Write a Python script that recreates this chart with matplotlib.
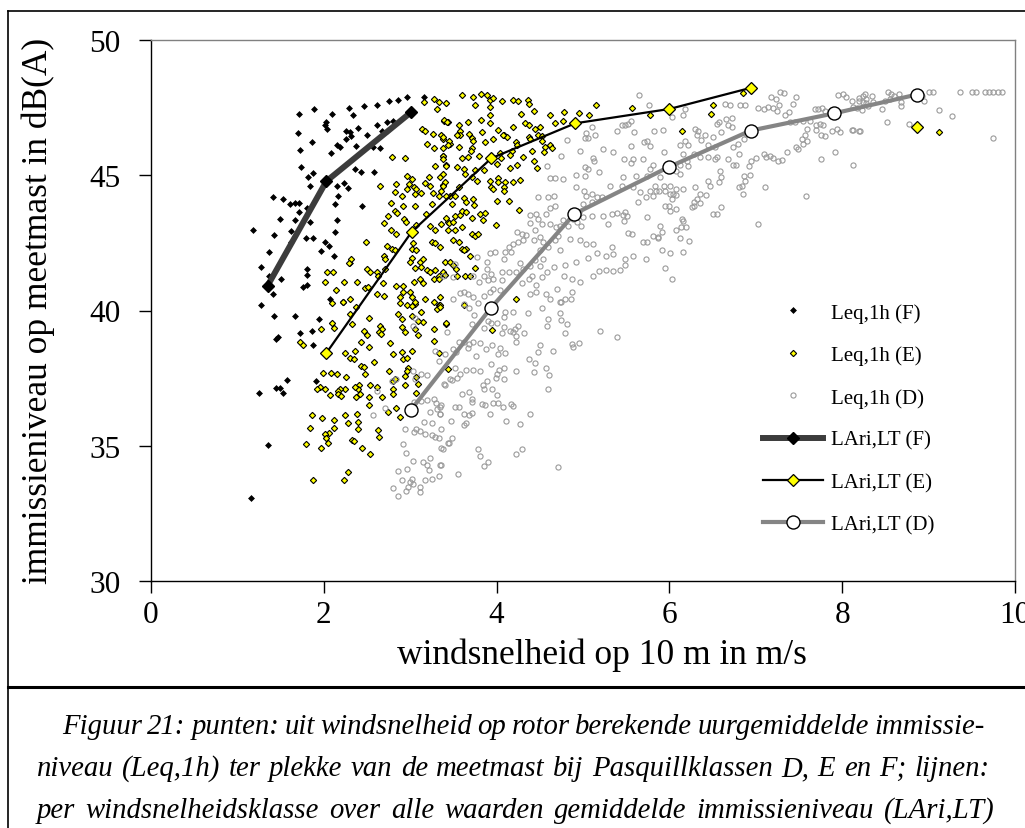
import matplotlib
matplotlib.use("Agg")
import matplotlib.pyplot as plt
from matplotlib.lines import Line2D
import numpy as np

plt.rcParams["font.family"] = ["Liberation Serif", "DejaVu Serif"]

# ---- hourly immission levels Leq,1h per Pasquill class (wind speed m/s, dB(A)) ----
leq_F = [
    (1.71, 47.27), (1.89, 47.45), (2.10, 47.27), (2.29, 47.49), (2.47, 47.55), (2.61, 47.61),
    (2.75, 47.75), (2.86, 47.80), (2.96, 47.91), (3.16, 47.91), (3.42, 47.66),
    (2.34, 47.21), (2.03, 46.96), (2.01, 46.84), (2.04, 46.71), (2.26, 46.65), (2.30, 46.59),
    (2.40, 46.75), (2.50, 46.47), (2.61, 46.86), (2.73, 46.96), (2.80, 47.02), (2.67, 46.65),
    (2.73, 46.63), (1.70, 46.57), (1.86, 46.22), (2.08, 45.81), (2.15, 46.10), (2.19, 46.04),
    (2.26, 46.34), (2.32, 46.44), (2.37, 46.07), (2.57, 46.04), (2.65, 46.01), (1.73, 45.94),
    (1.74, 45.32), (1.82, 44.93), (1.87, 45.09), (1.84, 44.62), (2.36, 45.24), (2.43, 45.11),
    (2.58, 45.11), (2.15, 44.62), (2.23, 44.72), (2.28, 44.53), (1.41, 44.19), (1.53, 44.13),
    (1.61, 43.94), (1.67, 43.98), (1.71, 43.98), (1.71, 43.63), (1.81, 43.80), (2.13, 43.94),
    (2.17, 44.25), (2.44, 43.86), (1.49, 43.38), (1.67, 43.33), (1.84, 43.29), (2.15, 43.33),
    (1.18, 42.99), (1.42, 42.80), (1.62, 42.95), (1.62, 42.55), (1.79, 42.69), (1.87, 42.69),
    (2.01, 42.53), (2.06, 42.40), (1.97, 42.19), (2.13, 42.92), (1.36, 42.16), (2.12, 42.00),
    (2.30, 41.76), (1.27, 41.60), (1.81, 41.52), (1.81, 41.32), (1.37, 41.27), (1.51, 41.17),
    (1.76, 40.86), (1.80, 40.95), (1.41, 40.62), (1.27, 40.21), (2.07, 40.43), (1.42, 39.81),
    (1.67, 39.81), (1.94, 39.67), (1.73, 39.17), (1.86, 39.26), (1.47, 39.01), (1.45, 38.93),
    (1.88, 38.73), (1.57, 37.44), (1.91, 37.41), (1.45, 37.14), (1.49, 37.14), (1.53, 36.94),
    (1.25, 36.94), (1.35, 35.01), (1.16, 33.08),
]

leq_E = [
    (3.16, 47.70), (3.27, 47.82), (3.33, 47.70), (3.31, 47.45), (3.42, 47.66), (3.39, 47.02),
    (3.44, 46.96), (3.14, 46.71), (3.17, 46.62), (3.26, 46.53), (3.36, 46.47), (3.38, 46.34),
    (3.20, 46.16), (3.27, 46.00), (3.38, 46.00), (3.46, 46.16), (2.79, 45.67), (2.94, 45.63),
    (3.38, 45.73), (3.29, 45.36), (3.42, 45.38), (2.96, 44.96), (3.02, 44.87), (2.99, 44.68),
    (2.96, 44.50), (3.04, 44.56), (3.07, 44.50), (2.84, 44.68), (2.65, 44.62), (3.22, 44.93),
    (3.23, 44.62), (3.17, 44.72), (3.34, 44.93), (3.38, 44.64), (3.36, 44.43), (2.82, 44.37),
    (2.91, 44.25), (3.05, 44.31), (3.13, 44.34), (3.26, 44.34), (3.33, 44.22), (3.46, 44.25),
    (2.78, 43.98), (2.92, 43.88), (3.06, 43.88), (3.18, 43.57), (3.25, 43.94), (2.82, 43.69),
    (2.85, 43.61), (2.93, 43.39), (2.95, 43.26), (2.70, 43.24), (2.74, 43.49), (2.78, 42.99),
    (2.84, 42.83), (3.07, 43.17), (3.23, 43.14), (3.29, 42.98), (3.36, 43.20), (3.44, 43.27),
    (3.25, 42.53), (3.29, 42.49), (3.34, 42.34), (2.49, 42.55), (2.73, 42.40), (2.79, 42.28),
    (2.82, 42.22), (3.02, 42.28), (3.03, 42.49), (3.07, 42.22), (2.70, 42.03), (2.71, 41.91),
    (3.02, 41.95), (3.11, 41.79), (3.15, 41.91), (2.50, 41.52), (2.53, 41.42), (2.61, 41.42),
    (2.63, 41.29), (2.71, 41.54), (3.00, 41.79), (3.06, 41.57), (3.13, 41.60), (3.19, 41.50),
    (3.23, 41.42), (3.29, 41.48), (3.33, 41.29), (3.38, 41.42), (2.32, 41.91), (2.29, 41.76),
    (2.04, 41.42), (2.11, 41.42), (2.01, 41.07), (2.23, 41.07), (2.39, 41.07), (2.69, 41.02),
    (2.84, 40.92), (2.92, 40.89), (3.04, 41.05), (3.11, 41.17), (3.15, 41.01), (3.27, 41.17),
    (3.33, 41.17), (2.48, 40.82), (2.51, 40.86), (2.61, 40.61), (2.70, 40.55), (2.14, 40.74),
    (2.22, 40.33), (2.30, 40.41), (2.37, 40.12), (2.88, 40.49), (2.92, 40.68), (3.00, 40.68),
    (3.02, 40.49), (3.06, 40.25), (3.17, 40.43), (3.27, 40.31), (3.33, 40.19), (3.34, 40.49),
    (2.10, 40.28), (2.22, 40.31), (2.30, 39.88), (2.52, 39.72), (2.10, 39.54), (2.12, 39.35),
    (1.97, 39.32), (2.33, 39.51), (2.46, 39.26), (2.50, 39.08), (2.43, 38.83), (2.52, 38.64),
    (2.65, 39.44), (2.67, 39.32), (2.64, 39.20), (2.66, 39.14), (2.77, 38.79), (2.88, 40.28),
    (2.96, 40.21), (3.02, 40.18), (3.06, 40.31), (2.86, 39.88), (2.90, 39.69), (3.02, 39.81),
    (3.13, 39.96), (3.15, 39.57), (3.09, 39.63), (2.91, 39.38), (2.94, 39.20), (3.06, 39.30),
    (3.09, 39.08), (3.28, 39.32), (3.41, 39.51), (3.31, 40.06), (3.34, 40.21), (3.28, 38.89),
    (3.33, 38.43), (3.02, 38.52), (2.91, 38.46), (2.80, 38.40), (2.92, 38.19), (2.96, 38.24),
    (2.98, 37.87), (2.94, 37.57), (2.96, 37.75), (3.07, 37.54), (3.09, 37.29), (3.07, 36.96),
    (2.94, 37.25), (2.80, 37.10), (2.80, 37.38), (2.82, 37.47), (2.75, 37.75), (2.80, 36.90),
    (2.67, 36.80), (2.62, 37.17), (2.53, 37.25), (2.52, 36.80), (2.52, 36.51), (2.41, 37.25),
    (2.40, 37.10), (2.42, 36.92), (2.37, 36.80), (2.36, 37.17), (2.48, 37.66), (2.43, 37.94),
    (2.46, 37.91), (2.26, 37.54), (2.25, 37.10), (2.19, 37.10), (2.17, 37.04), (2.17, 36.90),
    (2.20, 36.83), (2.07, 36.86), (2.01, 37.08), (1.96, 37.17), (1.92, 37.10), (1.99, 37.70),
    (2.08, 37.68), (2.15, 37.66), (2.25, 38.43), (2.30, 38.24), (2.35, 38.19), (2.36, 38.52),
    (2.58, 38.09), (1.72, 38.85), (1.76, 38.73), (1.86, 36.12), (1.98, 36.02), (2.12, 35.97),
    (2.25, 36.12), (2.39, 36.16), (2.28, 35.85), (2.40, 35.87), (2.40, 35.63), (2.12, 35.66),
    (2.06, 35.48), (2.01, 35.44), (1.84, 35.66), (2.03, 35.28), (2.05, 35.11), (1.97, 34.93),
    (1.79, 35.07), (2.33, 35.20), (2.35, 35.16), (2.44, 34.93), (2.53, 34.68), (2.63, 35.57),
    (2.64, 35.32), (2.83, 36.40), (2.74, 36.24), (2.88, 36.06), (2.28, 34.03), (2.23, 33.72),
    (1.87, 33.72), (3.44, 37.82),
    (3.60, 47.97), (3.73, 47.88), (3.82, 48.01), (3.89, 47.97), (3.92, 47.80), (3.96, 47.86),
    (4.06, 47.76), (4.19, 47.80), (4.25, 47.74), (4.36, 47.80), (4.37, 47.64), (3.75, 47.61),
    (3.92, 47.54), (4.43, 47.39), (4.28, 47.27), (4.62, 47.21), (4.78, 47.35), (4.95, 47.30),
    (5.07, 47.21), (5.15, 47.60), (5.57, 47.50), (5.77, 47.21), (3.39, 47.05), (3.43, 46.96),
    (3.57, 46.84), (3.67, 46.96), (3.82, 47.06), (3.92, 47.21), (3.92, 46.93), (4.02, 46.68),
    (4.08, 46.47), (4.12, 46.40), (4.19, 46.80), (4.33, 46.92), (4.38, 46.86), (4.44, 46.71),
    (4.50, 46.80), (4.68, 46.92), (4.77, 47.00), (3.58, 46.65), (3.58, 46.47), (3.38, 46.40),
    (3.45, 46.28), (3.54, 46.47), (3.68, 46.53), (3.71, 46.37), (3.73, 46.28), (3.83, 46.61),
    (3.87, 46.22), (3.96, 46.34), (4.07, 46.49), (4.23, 46.22), (4.24, 46.12), (4.37, 46.40),
    (4.39, 46.34), (4.48, 46.47), (4.52, 46.44), (4.53, 46.28), (4.62, 46.12), (4.64, 46.00),
    (4.56, 46.04), (4.55, 45.85), (4.41, 45.91), (4.31, 45.67), (4.18, 45.91), (4.16, 45.75),
    (4.04, 45.81), (4.05, 45.65), (3.80, 45.73), (3.72, 46.00), (3.70, 45.91), (3.67, 45.67),
    (3.60, 45.63), (3.56, 46.06), (3.44, 46.10), (3.38, 45.73), (3.38, 45.60), (3.42, 45.36),
    (3.38, 45.05), (3.54, 45.30), (3.62, 45.23), (3.63, 45.05), (3.75, 45.21), (3.85, 45.20),
    (3.71, 44.93), (3.77, 44.80), (3.40, 44.74), (3.38, 44.59), (4.00, 45.42), (4.15, 45.26),
    (4.24, 45.38), (4.47, 45.26), (4.43, 45.52), (4.19, 44.74), (4.27, 44.84), (4.10, 44.74),
    (4.02, 44.90), (4.02, 44.74), (3.92, 44.80), (3.94, 44.58), (3.96, 44.50), (4.09, 44.56),
    (4.08, 44.43), (3.56, 44.56), (3.42, 44.25), (3.52, 44.25), (3.48, 43.94), (3.62, 44.15),
    (3.65, 44.00), (3.73, 44.13), (3.74, 43.90), (3.52, 43.51), (3.58, 43.53), (3.60, 43.69),
    (3.65, 43.63), (3.71, 43.41), (3.81, 43.57), (3.87, 43.61), (3.84, 43.35), (4.00, 44.06),
    (4.14, 44.03), (4.26, 43.73), (3.99, 43.16), (3.42, 43.41), (3.45, 43.24), (3.50, 43.26),
    (3.44, 42.96), (3.52, 42.98), (3.60, 43.08), (3.50, 42.59), (3.56, 42.52), (3.60, 42.28),
    (3.65, 42.28), (3.69, 42.00), (3.62, 42.22), (3.72, 42.83), (3.75, 42.77), (3.79, 42.81),
    (3.40, 41.79), (3.46, 41.79), (3.50, 41.70), (3.53, 41.54), (3.75, 41.57), (3.40, 41.32),
    (3.54, 41.29), (3.63, 41.27), (3.69, 41.29), (4.22, 40.43), (3.35, 40.12), (3.62, 40.21),
    (3.41, 39.53), (3.95, 39.28), (6.15, 46.62), (6.48, 47.27), (6.50, 47.61), (6.85, 48.04),
    (9.12, 46.61),
]

leq_D = [
    (3.06, 39.72), (3.03, 39.44), (3.43, 39.20), (3.29, 38.52), (3.33, 38.15), (3.03, 37.75),
    (3.13, 37.66), (3.19, 37.62), (3.06, 37.47), (2.84, 37.45), (2.79, 37.41), (3.39, 37.29),
    (3.46, 37.47), (2.61, 37.04), (2.71, 36.39), (2.57, 36.12), (3.04, 36.61), (3.13, 36.64),
    (3.19, 36.70), (3.28, 36.74), (3.30, 36.59), (3.31, 36.37), (3.34, 36.43), (3.23, 36.24),
    (3.16, 35.87), (3.25, 35.85), (3.34, 36.18), (3.25, 35.38), (3.29, 35.32), (3.33, 35.28),
    (3.44, 35.11), (3.36, 34.91), (3.07, 35.63), (3.11, 35.53), (3.17, 35.44), (3.04, 35.50),
    (2.94, 35.63), (2.92, 35.07), (2.95, 34.74), (3.03, 34.43), (3.15, 34.40), (3.19, 34.30),
    (3.23, 34.54), (3.22, 34.09), (3.34, 34.27), (3.33, 33.90), (3.25, 33.78), (3.17, 33.72),
    (3.02, 33.78), (3.00, 33.66), (3.03, 33.60), (2.98, 33.47), (2.95, 33.31), (3.11, 33.47),
    (3.11, 33.29), (2.86, 33.16), (2.80, 33.45), (2.90, 33.72), (2.86, 34.05), (2.96, 34.15),
    (3.62, 40.25), (3.68, 40.09), (3.74, 39.85), (3.71, 39.51), (3.85, 39.35), (3.90, 39.63),
    (3.94, 39.54), (4.00, 39.54), (4.06, 39.17), (4.09, 39.75), (4.10, 39.94), (4.19, 39.94),
    (4.08, 39.38), (4.16, 39.26), (4.19, 39.22), (4.21, 39.32), (4.25, 39.44), (4.23, 39.04),
    (4.22, 38.85), (4.32, 39.16), (4.36, 39.90), (4.52, 40.09), (4.60, 39.69), (4.58, 39.44),
    (4.73, 39.90), (4.74, 39.65), (4.82, 39.51), (4.79, 39.16), (4.86, 40.41), (4.74, 40.33),
    (4.50, 38.71), (4.48, 38.48), (4.65, 38.50), (4.87, 38.77), (4.89, 38.64), (4.95, 38.80),
    (5.20, 39.26), (5.39, 39.01), (3.56, 38.85), (3.62, 38.83), (3.68, 38.77), (3.73, 38.83),
    (3.81, 38.80), (3.67, 38.61), (3.53, 38.46), (3.50, 38.58), (3.40, 38.40), (3.76, 38.31),
    (3.88, 38.58), (3.95, 38.74), (4.04, 38.61), (4.10, 38.42), (4.02, 38.40), (4.37, 38.21),
    (4.44, 38.07), (4.57, 37.87), (4.61, 37.62), (4.43, 37.72), (4.22, 37.78), (4.08, 37.87),
    (4.03, 37.81), (4.01, 37.66), (3.99, 37.50), (4.08, 37.47), (3.94, 38.02), (3.89, 37.41),
    (3.84, 37.23), (3.85, 37.10), (3.95, 37.10), (4.00, 36.86), (3.83, 36.55), (3.87, 36.51),
    (3.96, 36.58), (4.02, 36.58), (4.07, 36.43), (4.17, 36.53), (4.19, 36.46), (4.27, 35.79),
    (4.39, 36.18), (4.11, 35.93), (3.92, 36.18), (3.71, 36.74), (3.72, 36.61), (3.68, 36.98),
    (3.60, 36.92), (3.56, 36.43), (3.52, 36.43), (3.62, 36.18), (3.68, 36.14), (3.71, 36.22),
    (3.65, 35.84), (3.62, 35.75), (3.47, 35.93), (3.36, 36.49), (3.35, 36.18), (3.36, 35.63),
    (3.48, 35.28), (3.45, 35.10), (3.38, 34.89), (3.36, 34.27), (3.55, 33.96), (3.79, 34.89),
    (3.81, 34.61), (3.90, 34.40), (3.85, 34.25), (4.22, 34.70), (4.29, 34.89), (4.71, 34.21),
    (4.59, 37.08), (3.40, 37.26), (3.48, 37.44), (3.54, 37.51), (3.58, 37.66), (3.65, 37.81),
    (3.73, 37.81), (3.81, 37.77), (3.52, 37.87),
    (5.65, 47.98), (5.76, 47.58), (5.56, 47.02), (5.45, 46.84), (5.39, 46.65), (5.49, 46.84),
    (5.52, 46.90), (5.59, 46.61), (5.74, 46.28), (5.71, 46.22), (5.77, 46.07), (5.56, 46.07),
    (5.47, 45.60), (5.58, 45.60), (5.56, 45.46), (5.69, 45.60), (5.81, 45.38), (5.74, 44.96),
    (5.61, 44.99), (5.46, 44.93), (5.45, 44.59), (5.31, 44.62), (5.19, 45.11), (5.12, 45.63),
    (5.02, 45.30), (5.06, 45.23), (5.02, 44.99), (5.23, 45.97), (5.35, 45.85), (5.13, 45.54),
    (5.04, 46.57), (5.02, 46.37), (5.06, 46.37), (5.14, 46.49), (5.10, 46.77), (4.97, 45.91),
    (4.81, 46.31), (4.75, 45.73), (4.58, 45.33), (4.62, 44.90), (4.68, 44.90), (4.77, 44.86),
    (4.92, 45.01), (4.92, 44.56), (5.01, 44.40), (5.10, 44.31), (5.04, 44.25), (5.16, 44.19),
    (5.22, 44.19), (5.10, 44.00), (5.00, 43.94), (4.95, 43.63), (5.00, 43.45), (5.10, 43.49),
    (5.23, 43.49), (4.93, 43.26), (4.98, 43.12), (4.88, 43.39), (4.83, 43.14), (4.77, 43.36),
    (4.73, 43.14), (4.85, 42.65), (4.97, 42.59), (5.04, 42.46), (4.71, 42.77), (4.69, 43.08),
    (4.62, 43.20), (4.52, 43.20), (4.48, 43.39), (4.39, 43.53), (4.39, 43.23), (4.44, 42.96),
    (4.34, 42.80), (4.29, 42.83), (4.24, 42.89), (4.31, 42.59), (4.25, 42.52), (4.19, 42.46),
    (4.14, 42.34), (4.10, 42.18), (4.17, 42.18), (4.43, 42.59), (4.50, 42.71), (4.54, 42.52),
    (4.60, 42.34), (4.68, 42.59), (4.73, 42.22), (4.50, 42.22), (4.54, 41.91), (4.44, 41.85),
    (4.39, 41.66), (4.50, 41.66), (4.31, 41.54), (4.27, 41.76), (4.14, 41.42), (4.06, 41.42),
    (3.94, 41.35), (3.89, 41.54), (3.85, 41.29), (3.80, 41.05), (3.90, 41.13), (3.96, 41.17),
    (4.06, 41.13), (4.04, 40.74), (3.96, 40.80), (3.92, 40.68), (3.85, 40.55), (3.79, 40.27),
    (3.67, 40.62), (3.50, 41.23), (3.58, 40.64), (3.50, 40.41), (4.09, 41.89), (4.22, 41.42),
    (4.29, 41.02), (4.37, 41.17), (4.41, 41.29), (4.46, 40.95), (4.52, 41.23), (4.58, 41.42),
    (4.70, 40.80), (4.78, 41.29), (4.87, 41.17), (4.87, 40.68), (4.79, 40.43), (4.73, 40.31),
    (4.62, 40.43), (4.57, 40.62), (4.46, 40.68), (4.39, 40.62), (4.97, 41.07), (5.11, 41.29),
    (5.18, 41.46), (5.27, 41.51), (5.35, 41.46), (5.43, 41.51), (5.49, 41.69), (5.49, 41.91),
    (5.58, 42.03), (5.73, 41.91), (5.74, 42.55), (5.81, 42.77), (5.69, 42.52), (5.57, 42.83),
    (5.52, 42.87), (5.27, 42.01), (5.34, 42.34), (5.35, 42.09), (5.06, 41.93), (5.16, 42.12),
    (5.12, 42.46), (4.92, 41.79), (4.79, 41.69), (4.66, 41.60), (4.66, 44.25), (4.48, 44.19),
    (4.60, 44.21), (4.46, 43.57), (4.57, 43.56), (4.62, 43.78), (4.68, 43.88), (5.58, 44.56),
    (5.66, 44.37), (5.73, 44.19), (5.81, 44.25), (5.83, 44.62), (5.64, 44.00), (5.49, 43.63),
    (5.51, 43.51), (5.47, 43.32), (5.29, 43.20), (5.34, 43.57), (5.39, 43.61), (5.46, 43.53),
    (5.78, 44.40), (5.87, 42.71), (5.89, 43.14), (5.74, 43.45), (3.73, 40.49), (3.38, 41.29),
    (3.52, 41.72), (3.73, 41.26), (3.92, 42.13), (3.98, 42.16), (3.77, 41.98), (3.89, 41.81),
    (3.62, 40.70),
    (7.28, 48.07), (7.33, 48.04), (7.18, 47.88), (7.23, 47.82), (7.27, 47.58), (7.43, 47.64),
    (7.47, 47.88), (7.03, 47.48), (7.09, 47.45), (7.14, 47.51), (7.20, 47.48), (7.24, 47.39),
    (7.38, 47.35), (7.34, 47.21), (7.40, 46.96), (7.45, 46.96), (7.55, 47.02), (7.63, 47.02),
    (7.69, 47.45), (7.72, 47.45), (7.77, 47.48), (7.80, 47.39), (7.95, 47.97), (8.01, 48.01),
    (8.04, 47.88), (8.11, 47.76), (8.19, 47.76), (8.24, 47.94), (8.28, 47.82), (8.11, 46.69),
    (8.21, 46.65), (7.88, 46.65), (7.94, 46.71), (7.97, 46.59), (7.92, 45.85), (7.76, 45.60),
    (7.74, 46.90), (7.78, 46.84), (7.80, 46.44), (7.76, 46.47), (7.70, 46.69), (7.70, 46.84),
    (7.59, 46.71), (7.57, 46.47), (7.53, 46.34), (7.59, 46.28), (7.55, 46.16), (7.47, 46.04),
    (7.49, 45.97), (7.36, 45.85), (7.30, 45.57), (7.26, 45.54), (7.20, 45.63), (7.16, 45.73),
    (7.12, 45.67), (7.09, 45.79), (7.00, 45.63), (6.95, 45.54), (6.92, 45.33), (6.93, 45.01),
    (6.86, 44.99), (6.87, 44.77), (6.84, 44.62), (6.80, 44.58), (6.85, 44.31), (6.74, 45.38),
    (6.77, 45.38), (7.11, 44.56), (7.58, 44.22), (7.02, 43.18), (6.60, 43.84), (6.55, 43.55),
    (6.50, 43.55), (6.35, 43.98), (6.32, 44.13), (6.28, 43.88), (6.42, 44.27), (6.30, 44.58),
    (6.16, 44.50), (6.08, 44.27), (6.03, 44.13), (6.01, 44.31), (5.94, 44.62), (5.88, 44.43),
    (5.85, 44.40), (5.95, 44.43), (6.01, 44.62), (5.89, 44.93), (5.78, 45.23), (6.12, 45.38),
    (6.12, 45.05), (6.08, 45.17), (6.16, 45.79), (6.20, 45.54), (6.22, 45.33), (5.94, 45.85),
    (5.82, 46.65), (5.93, 46.69), (6.03, 47.14), (6.16, 47.21), (6.18, 47.45), (6.30, 46.71),
    (6.33, 46.65), (6.32, 46.49), (6.37, 46.32), (6.41, 46.49), (6.45, 46.10), (6.53, 46.04),
    (6.50, 46.40), (6.55, 46.90), (6.57, 46.96), (6.60, 46.59), (6.68, 46.84), (6.64, 47.64),
    (6.70, 47.58), (6.65, 47.08), (6.72, 47.11), (6.72, 46.77), (6.74, 46.04), (6.81, 45.79),
    (6.79, 46.16), (6.86, 46.34), (6.89, 46.53), (6.82, 47.58), (6.87, 47.58), (6.68, 45.60),
    (6.55, 45.67), (6.53, 45.60), (6.59, 45.17), (6.60, 44.95), (6.57, 44.74), (6.47, 44.62),
    (6.45, 44.80), (6.45, 45.67), (6.35, 45.67), (6.28, 45.79), (6.22, 46.12), (6.18, 46.28),
    (6.12, 46.10), (6.35, 44.31), (6.28, 44.00), (6.26, 43.84), (6.15, 43.39), (6.16, 43.30),
    (6.19, 43.08), (6.14, 43.08), (6.08, 42.98), (5.91, 42.92), (5.87, 42.67), (6.12, 42.67),
    (6.23, 42.56), (6.16, 42.18), (5.91, 42.22), (6.01, 42.12), (5.95, 41.58), (6.03, 41.17),
    (6.01, 43.69), (6.08, 43.76), (5.99, 43.88), (5.95, 43.88), (6.04, 44.31), (6.08, 44.50),
    (8.26, 48.01), (8.34, 47.94), (8.20, 47.85), (8.24, 47.72), (8.28, 47.67), (8.36, 47.70),
    (8.13, 47.51), (8.17, 47.48), (8.23, 47.43), (8.30, 47.55), (8.46, 47.45), (8.50, 47.74),
    (8.53, 48.09), (8.57, 48.01), (8.60, 47.92), (8.66, 48.01), (8.68, 47.70), (8.68, 47.55),
    (8.55, 47.82), (8.92, 47.94), (8.95, 47.75), (9.00, 48.07), (9.05, 48.07), (9.12, 47.43),
    (9.27, 47.18), (9.36, 48.07), (9.50, 48.07), (9.55, 48.07), (9.65, 48.07), (9.70, 48.07),
    (9.75, 48.07), (9.80, 48.07), (9.85, 48.07), (9.75, 46.38), (8.52, 46.98), (8.77, 46.90),
    (8.13, 46.69), (8.20, 46.65), (8.12, 45.38),
]

# ---- long-term class averages LAri,LT (NaN = class without a line segment) ----
lari_F_x = [1.35, 2.03, 3.01]
lari_F_y = [40.92, 44.78, 47.33]
lari_E_x = [2.03, 3.02, 3.94, 4.91, 6.00, 6.94, 8.00, 8.87]
lari_E_y = [38.43, 42.92, 45.63, 46.92, 47.45, 48.23, np.nan, 46.80]
lari_D_x = [3.01, 3.93, 4.90, 5.99, 6.94, 7.91, 8.86]
lari_D_y = [36.33, 40.08, 43.57, 45.30, 46.65, 47.29, 47.98]

x_ticks = [0, 2, 4, 6, 8, 10]
y_ticks = [30, 35, 40, 45, 50]

x_label = "windsnelheid op 10 m in m/s"
y_label = "immissieniveau op meetmast in dB(A)"
caption = [
    "Figuur 21: punten: uit windsnelheid op rotor berekende uurgemiddelde immissie-",
    "niveau (Leq,1h) ter plekke van de meetmast bij Pasquillklassen D, E en F; lijnen:",
    "per windsnelheidsklasse over alle waarden gemiddelde immissieniveau (LAri,LT)",
]

W, H = 1025, 829
fig = plt.figure(figsize=(W / 100, H / 100), dpi=100)
fig.patch.set_facecolor("white")


def fx(px):
    return px / W


def fy(py):
    return 1 - py / H


# outer frame of the chart and caption box
fig.add_artist(Line2D([fx(8), 1.0], [fy(12), fy(12)], color="black", lw=1.2))
fig.add_artist(Line2D([fx(8), fx(8)], [fy(12), 0.0], color="black", lw=1.2))
fig.add_artist(Line2D([fx(8), 1.0], [fy(688), fy(688)], color="black", lw=2.2))

ax = fig.add_axes([fx(151), fy(582), fx(1015) - fx(151), fy(41) - fy(582)])

fx_pts, fy_pts = zip(*leq_F)
ex_pts, ey_pts = zip(*leq_E)
dx_pts, dy_pts = zip(*leq_D)

ax.plot(fx_pts, fy_pts, ls="none", marker="D", ms=3.0, mfc="black", mec="black",
        mew=0.5, label="Leq,1h (F)", zorder=3)
ax.plot(ex_pts, ey_pts, ls="none", marker="D", ms=3.2, mfc="#FFFF00", mec="black",
        mew=0.8, label="Leq,1h (E)", zorder=3)
ax.plot(dx_pts, dy_pts, ls="none", marker="o", ms=3.7, mfc="none", mec="#9a9a9a",
        mew=0.8, label="Leq,1h (D)", zorder=3)

ax.plot(lari_F_x, lari_F_y, color="#3c3c3c", lw=4.3, marker="D", ms=6.6,
        mfc="black", mec="black", label="LAri,LT (F)", zorder=5)
ax.plot(lari_E_x, lari_E_y, color="black", lw=1.6, marker="D", ms=6.4,
        mfc="#FFFF00", mec="black", mew=0.9, label="LAri,LT (E)", zorder=5)
ax.plot(lari_D_x, lari_D_y, color="#858585", lw=3.0, marker="o", ms=9.4,
        mfc="white", mec="black", mew=1.0, label="LAri,LT (D)", zorder=5)

ax.set_xlim(0, 10)
ax.set_ylim(30, 50)
ax.set_xticks(x_ticks)
ax.set_yticks(y_ticks)
ax.tick_params(axis="both", direction="out", length=8.4, width=1, labelsize=22.5,
               colors="black")
ax.tick_params(axis="y", pad=13.5)
ax.tick_params(axis="x", pad=5.5)
for side in ("top", "right"):
    ax.spines[side].set_color("#808080")
    ax.spines[side].set_linewidth(1.0)
for side in ("left", "bottom"):
    ax.spines[side].set_color("black")
    ax.spines[side].set_linewidth(1.0)
for lbl in ax.get_xticklabels():
    lbl.set_clip_on(False)

fig.text(fx(38), fy(311), y_label, rotation=90, ha="center", va="center", fontsize=25.5)
fig.text(fx(602), fy(655), x_label, ha="center", va="center", fontsize=25.5)

leg = ax.legend(loc="upper left", bbox_to_anchor=(fx(763), fy(304)),
                bbox_transform=fig.transFigure, frameon=False, fontsize=15,
                handlelength=2.9, handletextpad=0.35, labelspacing=1.09,
                borderpad=0, borderaxespad=0, numpoints=1)

# justified caption lines: words spread between a left and a right margin
renderer = fig.canvas.get_renderer()
caption_margins = [(62, 985), (37, 990), (37, 995)]
for i, (line, (left, right)) in enumerate(zip(caption, caption_margins)):
    words = line.split(" ")
    arts = [fig.text(0, fy(727 + 42 * i), w, ha="left", va="center",
                     fontsize=20.7, style="italic") for w in words]
    widths = [a.get_window_extent(renderer).width for a in arts]
    gap = (right - left - sum(widths)) / (len(words) - 1)
    xpos = left
    for a, wd in zip(arts, widths):
        a.set_x(fx(xpos))
        xpos += wd + gap

fig.savefig("out.png", dpi=100)
